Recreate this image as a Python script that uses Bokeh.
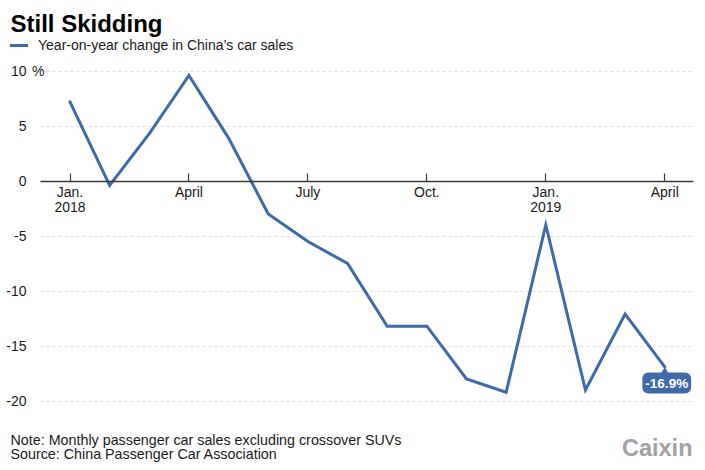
from bokeh.plotting import figure
from bokeh.models import (ColumnDataSource, Range1d, FixedTicker, Label, Legend,
                          LegendItem)
from bokeh.embed import file_html
from bokeh.resources import INLINE

# ---- data ----
months = ["2018-01", "2018-02", "2018-03", "2018-04", "2018-05", "2018-06",
          "2018-07", "2018-08", "2018-09", "2018-10", "2018-11", "2018-12",
          "2019-01", "2019-02", "2019-03", "2019-04"]
yoy_change = [7.2, -0.4, 4.3, 9.6, 3.9, -3.0, -5.5, -7.5, -13.2, -13.2,
              -18.0, -19.2, -4.0, -19.0, -12.1, -16.9]
x_tick_pos = [0, 3, 6, 9, 12, 15]
x_tick_labels = ["Jan.\n2018", "April", "July", "Oct.", "Jan.\n2019", "April"]
y_ticks = [-20, -15, -10, -5, 0, 5, 10]
y_tick_labels = ["-20", "-15", "-10", "-5", "0", "5", "10"]
y_unit = "%"

title_text = "Still Skidding"
series_name = "Year-on-year change in China\u2019s car sales"
note_text = "Note: Monthly passenger car sales excluding crossover SUVs"
source_text = "Source: China Passenger Car Association"
brand_text = "Caixin"

# ---- styling / layout ----
BLUE = "#3e6aa7"
TXT = "#1a1a1a"
FONT = "Liberation Sans"
W, H = 705, 470
X0, PXM = 69.5, 39.65      # canvas x of first month, px per month
Y0, PXU = 180.5, 11.0      # canvas y of zero, px per percentage point
PLOT_L, PLOT_R = 40, 693   # horizontal extent of the plotting area


def dx(px):
    return (px - X0) / PXM


def dy(py):
    return (Y0 - py) / PXU


idx = list(range(len(months)))
src = ColumnDataSource(dict(x=idx, y=yoy_change))

p = figure(width=W, height=H, output_backend="svg", toolbar_location=None,
           x_range=Range1d(dx(0), dx(W)), y_range=Range1d(dy(H), dy(0)),
           min_border=0)
p.title.visible = False
p.outline_line_color = None
p.background_fill_color = "white"
p.border_fill_color = "white"

# x axis pinned at zero
xa = p.xaxis[0]
xa.fixed_location = 0
xa.bounds = (dx(PLOT_L), dx(PLOT_R))
xa.ticker = FixedTicker(ticks=x_tick_pos)
xa.major_label_overrides = {k: v for k, v in zip(x_tick_pos, x_tick_labels)}
xa.major_tick_out = 0
xa.major_tick_in = 8
xa.minor_tick_in = 0
xa.minor_tick_out = 0
xa.axis_line_color = "#3a3a3a"
xa.axis_line_width = 1.5
xa.major_tick_line_color = "#3a3a3a"
xa.major_tick_line_width = 1.2
xa.major_label_text_font = FONT
xa.major_label_text_font_size = "14px"
xa.major_label_text_color = TXT
xa.major_label_text_line_height = 0.93
xa.major_label_standoff = 3

# y axis pinned at the left edge of the plotting area
yt = FixedTicker(ticks=y_ticks)
ya = p.yaxis[0]
ya.fixed_location = dx(PLOT_L)
ya.ticker = yt
ya.major_label_overrides = {k: v for k, v in zip(y_ticks, y_tick_labels)}
ya.axis_line_color = None
ya.major_tick_line_color = None
ya.minor_tick_line_color = None
ya.major_label_standoff = 8
ya.major_label_text_font = FONT
ya.major_label_text_font_size = "14px"
ya.major_label_text_color = TXT

p.xgrid.visible = False
g = p.ygrid[0]
g.ticker = yt
g.grid_line_color = "#dddddd"
g.grid_line_dash = "3 3"
g.grid_line_width = 1
try:
    g.cross_bounds = (dx(PLOT_L), dx(PLOT_R))
except Exception:
    g.visible = False
    p.segment(x0=[dx(PLOT_L)] * len(y_ticks), x1=[dx(PLOT_R)] * len(y_ticks),
              y0=y_ticks, y1=y_ticks, line_color="#dddddd", line_dash="3 3",
              line_width=1)

r = p.line("x", "y", source=src, line_color=BLUE, line_width=3,
           line_join="miter", line_cap="round")

# unit sign after the top tick label
p.add_layout(Label(x=dx(31.5), y=y_ticks[-1], text=y_unit, text_baseline="middle",
                   text_align="left", text_font=FONT, text_font_size="14px",
                   text_color=TXT))

# end-of-line value tag
last_x = idx[-1]
last_y = yoy_change[-1]
p.scatter([last_x], [last_y - 0.45], marker="triangle", size=7, color=BLUE)
p.add_layout(Label(x=last_x, y=last_y, text=f"{last_y:.1f}%", x_offset=2,
                   y_offset=-(382.5 - (Y0 - last_y * PXU)),
                   text_align="center", text_baseline="middle", text_font=FONT,
                   text_font_size="13.5px", text_font_style="bold",
                   text_color="white", background_fill_color=BLUE,
                   padding=3, border_radius=6))

# title
p.add_layout(Label(x=dx(10), y=dy(22.5), text=title_text, text_font=FONT,
                   text_font_size="24px", text_font_style="bold",
                   text_color="black", text_baseline="alphabetic"))

# legend
leg = Legend(items=[LegendItem(label=series_name, renderers=[r])],
             location=(10, H - 53), orientation="horizontal",
             padding=0, margin=0, spacing=0, border_line_color=None,
             background_fill_alpha=0, glyph_width=18, glyph_height=16,
             label_height=16, label_standoff=10,
             label_text_font=FONT, label_text_font_size="14px",
             label_text_color=TXT)
p.add_layout(leg)

# footer
p.add_layout(Label(x=dx(10), y=dy(439), text=note_text, text_font=FONT,
                   text_font_size="14.3px", text_color=TXT,
                   text_baseline="alphabetic"))
p.add_layout(Label(x=dx(10), y=dy(453.5), text=source_text, text_font=FONT,
                   text_font_size="14.3px", text_color=TXT,
                   text_baseline="alphabetic"))
p.add_layout(Label(x=dx(692), y=dy(447.5), text=brand_text, text_align="right",
                   text_font=FONT, text_font_size="23.5px", text_font_style="bold",
                   text_color="#a2a2a2", text_baseline="alphabetic"))

open("out.html", "w").write(file_html(p, INLINE))
